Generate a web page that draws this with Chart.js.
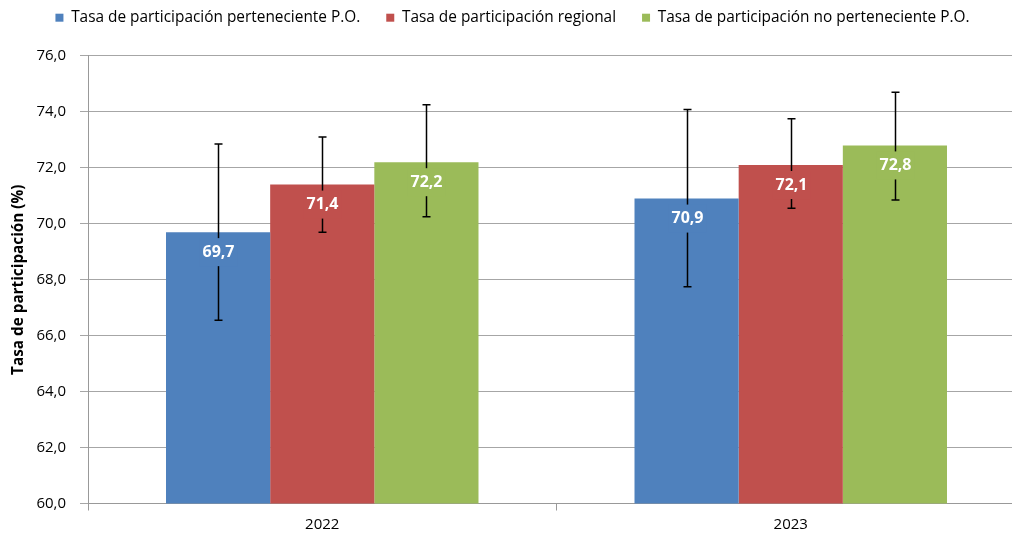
<!DOCTYPE html>
<html>
<head>
<meta charset="utf-8">
<script src="https://cdn.jsdelivr.net/npm/chart.js@4"></script>
<style>
	body { margin: 0; overflow: hidden; background: #fff; }
	canvas { display: block; }
</style>
</head>
<body>
<canvas id="chart" width="1030" height="533" style="width:1030px;height:533px"></canvas>
<script>
// Chart data
const years = ['2022', '2023'];
const seriesNames = [
	'Tasa de participación perteneciente P.O.',
	'Tasa de participación regional',
	'Tasa de participación no perteneciente P.O.',
];
const tasaPO = [69.7, 70.9];
const tasaRegional = [71.4, 72.1];
const tasaNoPO = [72.2, 72.8];

// Error bar limits (low / high)
const lowPO = [66.55, 67.75];
const highPO = [72.85, 74.08];
const lowRegional = [69.7, 70.55];
const highRegional = [73.1, 73.75];
const lowNoPO = [70.25, 70.85];
const highNoPO = [74.25, 74.7];

const yMin = 60;
const yMax = 76;
const yStep = 2;

const colors = ['#4F81BD', '#C0504D', '#9BBB59'];

function fmt(v) {
	return v.toFixed(1).replace('.', ',');
}

// Extra space between the legend and the plot
const legendSpacing = {
	id: 'legendSpacing',
	beforeInit(chart) {
		const origFit = chart.legend.fit;
		chart.legend.fit = function () {
			origFit.bind(chart.legend)();
			this.height += 20.5;
		};
	},
};

// Draws the error bars, then the value labels on top of them
const errorBarsAndLabels = {
	id: 'errorBarsAndLabels',
	afterDatasetsDraw(chart) {
		const ctx = chart.ctx;
		const yScale = chart.scales.y;
		chart.data.datasets.forEach((ds, i) => {
			const meta = chart.getDatasetMeta(i);
			meta.data.forEach((bar, j) => {
				const x = Math.round(bar.x) + 0.5;
				const top = yScale.getPixelForValue(ds.high[j]);
				const bot = yScale.getPixelForValue(ds.low[j]);
				ctx.save();
				ctx.strokeStyle = '#000';
				ctx.lineWidth = 1.5;
				ctx.beginPath();
				ctx.moveTo(x, top);
				ctx.lineTo(x, bot);
				ctx.moveTo(x - 4, top);
				ctx.lineTo(x + 4, top);
				ctx.moveTo(x - 4, bot);
				ctx.lineTo(x + 4, bot);
				ctx.stroke();

				const text = fmt(ds.data[j]);
				ctx.font = 'bold 16px "Open Sans"';
				const w = ctx.measureText(text).width;
				const ly = bar.y + 20;
				ctx.fillStyle = ds.backgroundColor;
				ctx.fillRect(x - w / 2 - 3, ly - 14, w + 6, 28);
				ctx.fillStyle = '#fff';
				ctx.textAlign = 'center';
				ctx.textBaseline = 'middle';
				ctx.fillText(text, x, ly);
				ctx.restore();
			});
		});
	},
};

const ctx = document.getElementById('chart').getContext('2d');
new Chart(ctx, {
	type: 'bar',
	data: {
		labels: years,
		datasets: [
			{ label: seriesNames[0], data: tasaPO, low: lowPO, high: highPO, backgroundColor: colors[0] },
			{ label: seriesNames[1], data: tasaRegional, low: lowRegional, high: highRegional, backgroundColor: colors[1] },
			{ label: seriesNames[2], data: tasaNoPO, low: lowNoPO, high: highNoPO, backgroundColor: colors[2] },
		],
	},
	options: {
		responsive: false,
		animation: false,
		datasets: {
			bar: { categoryPercentage: 0.667, barPercentage: 1.0, borderWidth: 0 },
		},
		layout: { padding: { top: -16, right: 5, bottom: 0, left: 0 } },
		plugins: {
			legend: {
				position: 'top',
				labels: {
					font: { family: 'Open Sans', size: 15.4 },
					color: '#000',
					boxWidth: 8,
					boxHeight: 8,
					padding: 26,
				},
			},
			tooltip: { enabled: false },
		},
		scales: {
			x: {
				offset: true,
				grid: {
					offset: true,
					drawOnChartArea: false,
					color: '#999',
					tickLength: 7,
				},
				border: { color: '#999' },
				ticks: { color: '#000', font: { family: 'Open Sans', size: 15 }, padding: 5 },
				afterFit(scale) { scale.height = 29.5; },
			},
			y: {
				min: yMin,
				max: yMax,
				ticks: {
					stepSize: yStep,
					color: '#000',
					font: { family: 'Open Sans', size: 15 },
					padding: 14,
					callback: (v) => fmt(v),
				},
				grid: { color: '#a6a6a6', tickLength: 8 },
				border: { color: '#999' },
				title: {
					display: true,
					text: 'Tasa de participación (%)',
					color: '#000',
					font: { family: 'Open Sans', size: 15.3, weight: 'bold' },
					padding: { top: 9, bottom: 0 },
				},
				afterFit(scale) { scale.width = 88; },
			},
		},
	},
	plugins: [errorBarsAndLabels, legendSpacing],
});
</script>
</body>
</html>
